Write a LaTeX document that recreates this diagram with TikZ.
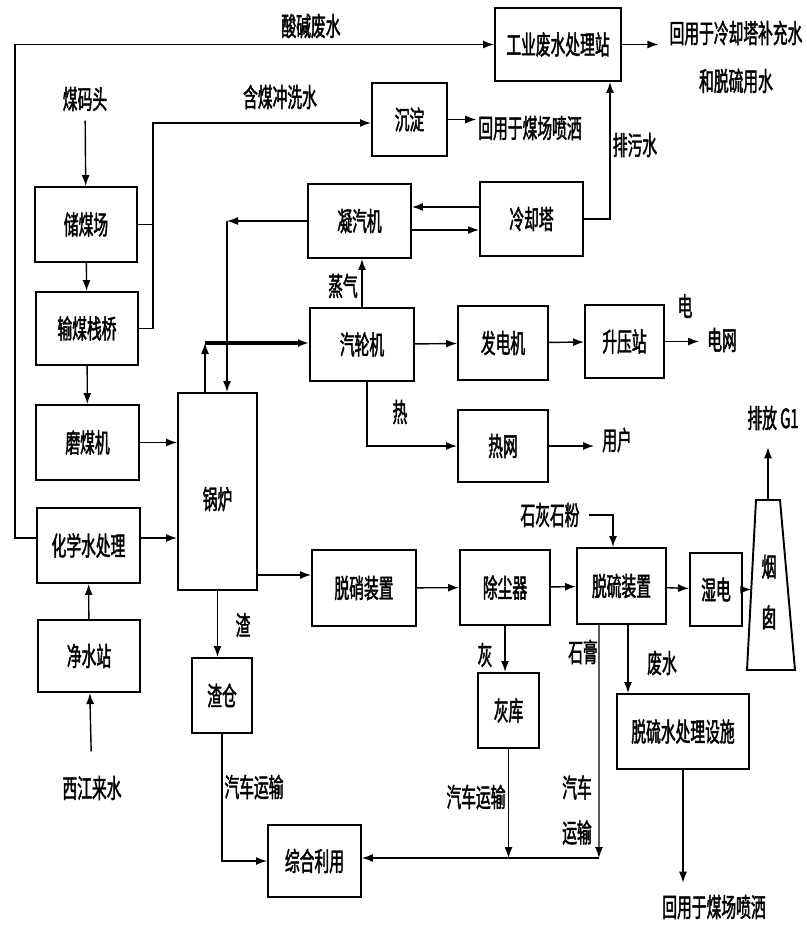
\documentclass[tikz,border=0pt]{standalone}
\usepackage{fontspec}
\setmainfont{Noto Sans CJK SC}[FakeStretch=0.56,FakeBold=1.6]
\usetikzlibrary{arrows.meta, positioning, calc}

\begin{document}
\begin{tikzpicture}[
    x=0.2mm, y=-0.2mm,
    box/.style 2 args={rectangle, draw=black, line width=1.1pt, minimum width=#1*0.2mm, minimum height=#2*0.2mm, inner sep=1pt, font=\fontsize{15pt}{17pt}\selectfont},
    txt/.style={inner sep=1pt, font=\fontsize{15pt}{17pt}\selectfont},
    arrow/.style={-{Latex[length=2.2mm, width=1.6mm]}, line width=0.8pt}
]
    \useasboundingbox (0,0) rectangle (807,926);

    % Blocks
    \node[box={126}{73}] (ind) at (558,44.5) {工业废水处理站};
    \node[box={75}{73}] (chendian) at (409.5,119.5) {沉淀};
    \node[box={102}{75}] (chumei) at (86,224.5) {储煤场};
    \node[box={102}{73}] (shumei) at (87,328.5) {输煤栈桥};
    \node[box={103}{75}] (momei) at (87.5,442.5) {磨煤机};
    \node[box={103}{75}] (huaxue) at (88.5,545.5) {化学水处理};
    \node[box={102}{72}] (jingshui) at (89,656) {净水站};
    \node[box={103}{74}] (ningqi) at (359.5,221) {凝汽机};
    \node[box={103}{74}] (lengque) at (531.5,219) {冷却塔};
    \node[box={104}{73}] (qilun) at (362,344.5) {汽轮机};
    \node[box={90}{74}] (fadian) at (503,343) {发电机};
    \node[box={79}{73}] (shengya) at (624.5,341.5) {升压站};
    \node[box={90}{72}] (rewang) at (503,446) {热网};
    \node[box={79}{197}, text height=0.8cm, text depth=0.1cm] (guolu) at (217.5,491.5) {锅炉};
    \node[box={104}{76}] (tuoxiao) at (364,588) {脱硝装置};
    \node[box={90}{75}] (chuchen) at (505,587.5) {除尘器};
    \node[box={89}{76}] (tuoliu) at (621.5,586) {脱硫装置};
    \node[box={52}{73}] (shidian) at (716,589.5) {湿电};
    \node[box={61}{75}] (huiku) at (508.5,710.5) {灰库};
    \node[box={60}{75}] (zhacang) at (222,695.5) {渣仓};
    \node[box={93}{72}] (zonghe) at (314.5,861) {综合利用};
    \node[box={132}{75}] (tlsc) at (683,731.5) {脱硫水处理设施};

    % Chimney
    \draw[line width=1.1pt] (756,500) coordinate (ytTL) -- (780,500) coordinate (ytTR)
        -- (795,670) -- (747,670) coordinate (ytBL) -- cycle;
    \path (ytTL) -- (ytTR) coordinate[midway] (ytT);
    \path (ytTL) -- (ytBL) coordinate[pos=0.526] (ytL);
    \node[txt, align=center] (yantong) at (769,592) {烟\\[0.42cm]囱};

    % Labels
    \node[txt] (suanjian) at (311,26) {酸碱废水};
    \node[txt, align=center] (huiyong1) at (736,57) {回用于冷却塔补充水\\[0.36cm]和脱硫用水};
    \node[txt] (meima) at (85,99) {煤码头};
    \node[txt] (hanmei) at (280,97) {含煤冲洗水};
    \node[txt] (huiyong2) at (530,128) {回用于煤场喷洒};
    \node[txt] (paiwu) at (635,145) {排污水};
    \node[txt] (zhengqi) at (343,286) {蒸气};
    \node[txt] (dian) at (685,306) {电};
    \node[txt] (dianwang) at (722,340) {电网};
    \node[txt] (re) at (400,412) {热};
    \node[txt] (yonghu) at (617,440) {用户};
    \node[txt] (paifang) at (773,418) {排放 G1};
    \node[txt] (shihui) at (550,515) {石灰石粉};
    \node[txt] (zha) at (243,625) {渣};
    \node[txt] (hui) at (485,655) {灰};
    \node[txt] (shigao) at (583,652) {石膏};
    \node[txt] (feishui) at (662,663) {废水};
    \node[txt] (qiche1) at (254,787) {汽车运输};
    \node[txt] (qiche2) at (476,797) {汽车运输};
    \node[txt, align=center] (qiche3) at (577,810) {汽车\\[0.3cm]运输};
    \node[txt] (xijiang) at (92,788) {西江来水};
    \node[txt] (huiyong3) at (714,907) {回用于煤场喷洒};

    % Coordinates
    \coordinate (rail) at (15,0);
    \coordinate (wash) at (153,123);
    \coordinate (ret) at (227,221);
    \coordinate (stm) at (205,343);
    \coordinate (bus) at (599,858);
    \coordinate (hxout) at ([yshift=0.15cm]huaxue.west);
    \coordinate (hxin) at ([yshift=0.15cm]huaxue.east);
    \coordinate (ct1) at ([yshift=0.24cm]lengque.west);
    \coordinate (ct2) at ([yshift=-0.22cm]lengque.west);
    \coordinate (fg) at ([yshift=0.26cm]tuoxiao.west);
    \coordinate (ww) at ([xshift=0.13cm]tuoliu.south);

    % Water
    \draw[arrow] (hxout) -- (hxout -| rail) |- (ind.west);
    \draw[arrow, shorten >=0.18cm] (ind.east) -- (ind.east -| huiyong1.west);
    \draw[arrow] (jingshui) -- (huaxue);
    \draw[arrow, shorten <=0.45cm] (xijiang) -- (jingshui);
    \draw[arrow] (hxin) -- (hxin -| guolu.west);

    % Coal
    \draw[arrow, shorten <=0.15cm] (meima) -- (chumei);
    \draw[arrow] (chumei) -- (shumei);
    \draw[arrow] (shumei) -- (momei);
    \draw[arrow] (momei.east) -- (momei.east -| guolu.west);
    \draw (chumei.east) -- (chumei.east -| wash);
    \draw[arrow] (shumei.east) -| (wash) -- (wash -| chendian.west);
    \draw[arrow] (chendian.east) -- (chendian.east -| huiyong2.west);

    % Steam and cooling
    \draw[arrow] (stm |- guolu.north) -- (stm);
    \draw[arrow, line width=2pt] (stm) -- (stm -| qilun.west);
    \draw[arrow] (qilun.north) -- (qilun.north |- ningqi.south);
    \draw[arrow] (ningqi.west) -- (ret);
    \draw[arrow] (ret) -- (ret |- guolu.north);
    \draw[arrow] (ct1) -- (ct1 -| ningqi.east);
    \draw[arrow] (ct2 -| ningqi.east) -- (ct2);
    \draw[arrow] (lengque.east) -| ([xshift=1.04cm]ind.south);

    % Power and heat
    \draw[arrow] (qilun) -- (fadian);
    \draw[arrow] (fadian) -- (shengya);
    \draw[arrow, shorten >=0.12cm] (shengya.east) -- (shengya.east -| dianwang.west);
    \draw[arrow] ([xshift=0.1cm]qilun.south) |- (rewang.west);
    \draw[arrow, shorten >=0.12cm] (rewang.east) -- (rewang.east -| yonghu.west);

    % Flue gas
    \draw[arrow] (fg -| guolu.east) -- (fg);
    \draw[arrow] (tuoxiao) -- (chuchen);
    \draw[arrow] (chuchen) -- (tuoliu);
    \draw[arrow] (tuoliu) -- (shidian);
    \draw[arrow] (shidian.east) -- (shidian.east -| ytL);
    \draw[arrow, shorten >=0.3cm] (ytT) -- (ytT |- paifang.south);
    \draw[arrow, shorten <=0.15cm] (shihui.east) -| ([xshift=-0.17cm]tuoliu.north);

    % Residues
    \draw[arrow] (guolu.south) -- (guolu.south |- zhacang.north);
    \draw[arrow] (zhacang.south) |- (zonghe.west);
    \draw[arrow] (chuchen.south) -- (chuchen.south |- huiku.north);
    \draw[arrow] (huiku.south) -- (huiku.south |- bus);
    \draw[arrow] ([xshift=-0.45cm]tuoliu.south) -- (bus);
    \draw[arrow] (bus) -- (bus -| zonghe.east);
    \draw[arrow] (ww) -- (ww |- tlsc.north);
    \draw[arrow, shorten >=0.2cm] (tlsc.south) -- (tlsc.south |- huiyong3.north);
\end{tikzpicture}
\end{document}
